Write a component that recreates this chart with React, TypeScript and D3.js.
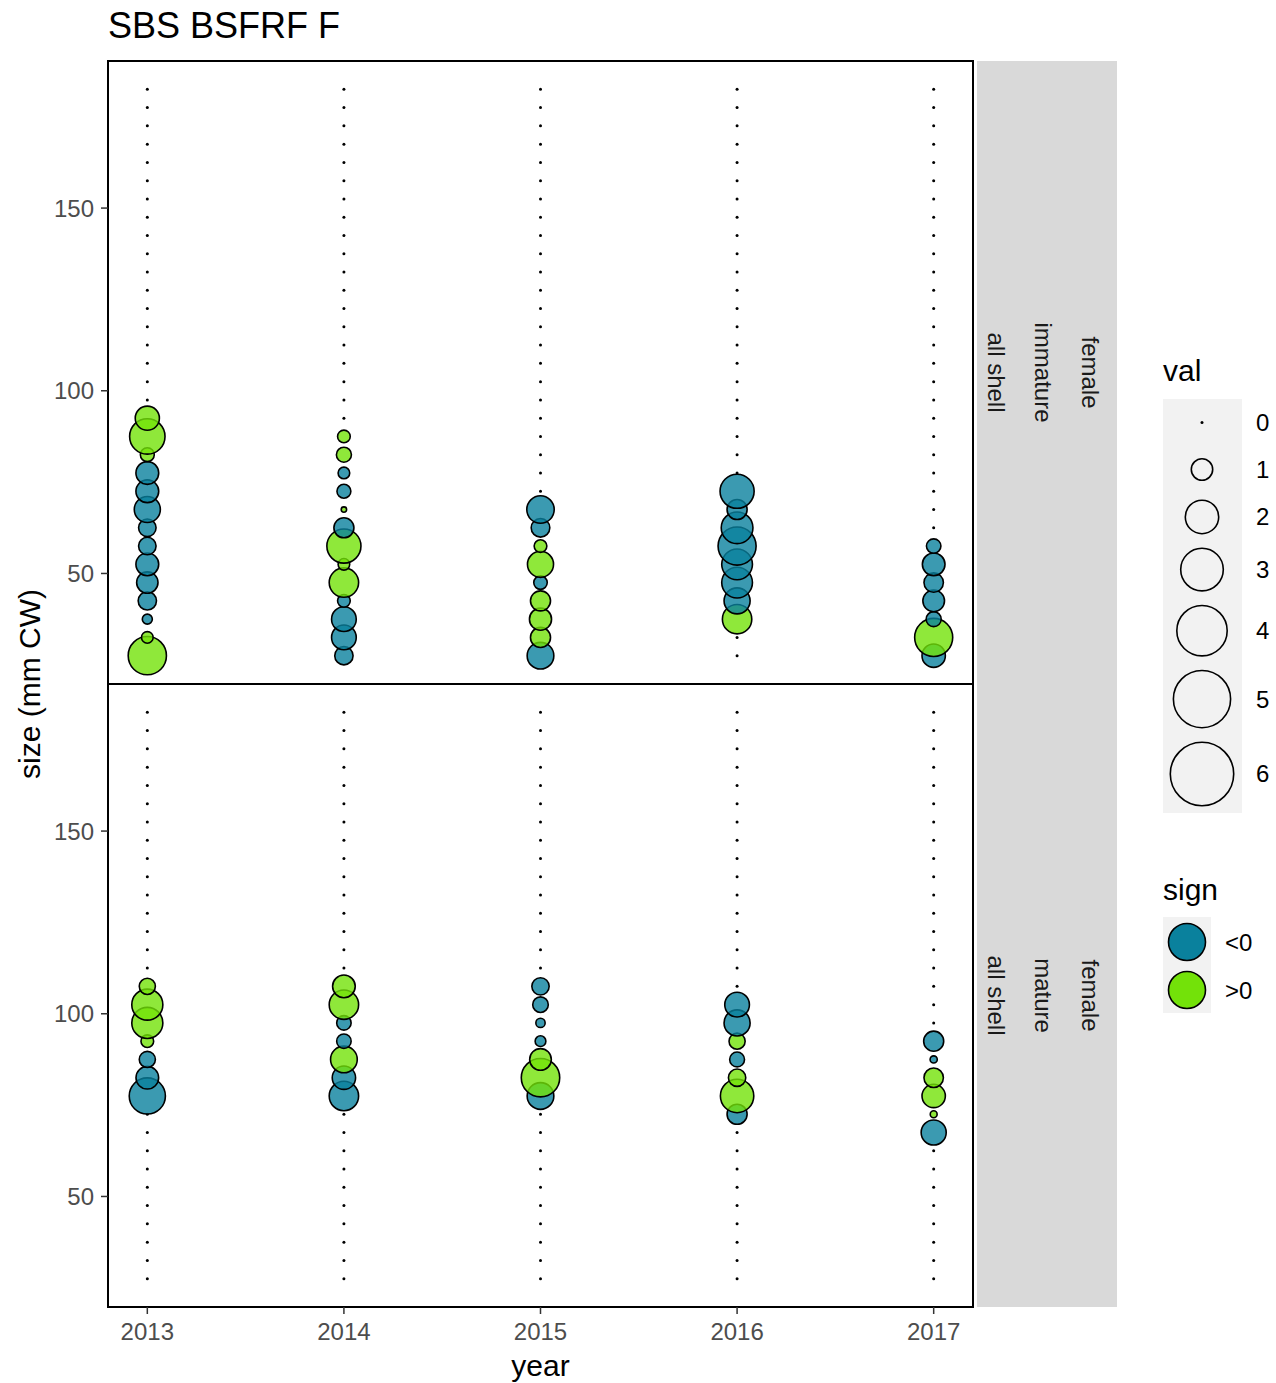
import React from "react";
import * as d3 from "d3";

// ---------- data ----------
const years = [2013, 2014, 2015, 2016, 2017];
const sizeBins = [
  27.5, 32.5, 37.5, 42.5, 47.5, 52.5, 57.5, 62.5, 67.5, 72.5, 77.5, 82.5, 87.5, 92.5, 97.5, 102.5,
  107.5, 112.5, 117.5, 122.5, 127.5, 132.5, 137.5, 142.5, 147.5, 152.5, 157.5, 162.5, 167.5, 172.5,
  177.5, 182.5,
];
const yTicks = [50, 100, 150];
const valBreaks = [0, 1, 2, 3, 4, 5, 6];
const signLabels = ["<0", ">0"];
const panelLabels = [
  ["female", "immature", "all shell"],
  ["female", "mature", "all shell"],
];

// non-zero values per year: [size bin, value]; every other bin is 0
const immature2013: [number, number][] = [[92.5, 1.2], [87.5, 2.2], [82.5, 0.55], [77.5, -1.1], [72.5, -1.1], [67.5, -1.35], [62.5, -0.75], [57.5, -0.75], [52.5, -1.1], [47.5, -1.0], [42.5, -0.8], [37.5, -0.37], [32.5, 0.44], [27.5, 2.5]];
const immature2014: [number, number][] = [[87.5, 0.49], [82.5, 0.61], [77.5, -0.44], [72.5, -0.55], [67.5, 0.2], [62.5, -0.91], [57.5, 2.07], [52.5, 0.44], [47.5, 1.63], [42.5, -0.49], [37.5, -1.24], [32.5, -1.24], [27.5, -0.8]];
const immature2015: [number, number][] = [[67.5, -1.46], [62.5, -0.82], [57.5, 0.49], [52.5, 1.35], [47.5, -0.53], [42.5, 0.91], [37.5, 1.05], [32.5, 0.91], [27.5, -1.4]];
const immature2016: [number, number][] = [[72.5, -2.07], [67.5, -0.91], [62.5, -1.84], [57.5, -2.48], [52.5, -1.75], [47.5, -1.75], [42.5, -1.35], [37.5, 1.63]];
const immature2017: [number, number][] = [[57.5, -0.58], [52.5, -1.09], [47.5, -0.87], [42.5, -1.02], [37.5, -0.61], [32.5, 2.48], [27.5, -1.14]];

const mature2013: [number, number][] = [[107.5, 0.67], [102.5, 1.78], [97.5, 1.78], [92.5, 0.49], [87.5, -0.67], [82.5, -1.09], [77.5, -2.28]];
const mature2014: [number, number][] = [[107.5, 1.09], [102.5, 1.63], [97.5, -0.58], [92.5, -0.58], [87.5, 1.4], [82.5, -1.14], [77.5, -1.63]];
const mature2015: [number, number][] = [[107.5, -0.74], [102.5, -0.64], [97.5, -0.34], [92.5, -0.4], [87.5, 1.02], [82.5, 2.52], [77.5, -1.4]];
const mature2016: [number, number][] = [[102.5, -1.24], [97.5, -1.35], [92.5, 0.67], [87.5, -0.6], [82.5, 0.74], [77.5, 2.0], [72.5, -0.91]];
const mature2017: [number, number][] = [[92.5, -0.91], [87.5, -0.26], [82.5, 0.87], [77.5, 1.14], [72.5, 0.25], [67.5, -1.27]];

const panelData = [
  [immature2013, immature2014, immature2015, immature2016, immature2017],
  [mature2013, mature2014, mature2015, mature2016, mature2017],
];

// ---------- styles ----------
const FONT = "'Liberation Sans', Arial, Helvetica, sans-serif";
const NEG = "#0A819D";
const POS = "#73E209";
const FILL_ALPHA = 0.8;
const STROKE_W = 1.6;

// ---------- layout ----------
const W = 1276;
const H = 1383;
const PL = 108;
const PR = 973;
const panelTops = [61, 684];
const PH = 623;
const STRIP_X = 977;
const STRIP_W = 140 / 3;

const x = d3.scaleLinear().domain([2012.8, 2017.2]).range([PL, PR]);
const sqrtLin = d3.scaleLinear().domain([0, Math.sqrt(6)]).range([-6, 65]);
const diam = (v: number) => Math.max(3, sqrtLin(Math.sqrt(Math.abs(v))));

function Panel({ idx }: { idx: number }) {
  const top = panelTops[idx];
  const y = d3.scaleLinear().domain([19.75, 190.25]).range([top + PH, top]);
  const cols = panelData[idx];
  const pts: { yr: number; bin: number; v: number }[] = [];
  years.forEach((yr, i) => {
    const m = new Map(cols[i]);
    sizeBins.forEach((b) => pts.push({ yr, bin: b, v: m.get(b) ?? 0 }));
  });
  return (
    <g>
      <rect x={PL} y={top} width={PR - PL} height={PH} fill="white" />
      {pts.map((p, i) => {
        const cx = x(p.yr);
        const cy = y(p.bin);
        if (p.v === 0) return <circle key={i} cx={cx} cy={cy} r={1.5} fill="black" />;
        const r = (diam(p.v) - STROKE_W) / 2;
        return (
          <circle
            key={i}
            cx={cx}
            cy={cy}
            r={r}
            fill={p.v < 0 ? NEG : POS}
            fillOpacity={FILL_ALPHA}
            stroke="black"
            strokeWidth={STROKE_W}
          />
        );
      })}
      <rect x={PL} y={top} width={PR - PL} height={PH} fill="none" stroke="black" strokeWidth={2} />
      {yTicks.map((t) => (
        <g key={t}>
          <line x1={PL - 7} x2={PL} y1={y(t)} y2={y(t)} stroke="#333" strokeWidth={1.5} />
          <text x={PL - 14} y={y(t)} textAnchor="end" dominantBaseline="central" fontSize={24} fill="#4d4d4d">
            {t}
          </text>
        </g>
      ))}
      {/* strips */}
      <rect x={STRIP_X} y={top} width={STRIP_W * 3} height={PH} fill="#d9d9d9" />
      {panelLabels[idx].map((lab, j) => {
        const cx = STRIP_X + STRIP_W * (2 - j) + STRIP_W / 2 - 3.5;
        const cy = top + PH / 2;
        return (
          <text
            key={j}
            transform={`translate(${cx},${cy}) rotate(90)`}
            textAnchor="middle"
            dominantBaseline="central"
            fontSize={24}
            fill="#1a1a1a"
          >
            {lab}
          </text>
        );
      })}
    </g>
  );
}

function ValLegend() {
  const keyH = valBreaks.map((v) => Math.max(47, diam(v) + 13));
  const top = 399;
  let acc = top;
  const centers = keyH.map((h) => {
    const c = acc + h / 2;
    acc += h;
    return c;
  });
  const kx = 1202;
  return (
    <g>
      <text x={1163} y={381} fontSize={30} fill="black">val</text>
      <rect x={1163} y={top} width={79} height={acc - top} fill="#f2f2f2" />
      {valBreaks.map((v, i) => (
        <g key={v}>
          {v === 0 ? (
            <circle cx={kx} cy={centers[i]} r={1.5} fill="black" />
          ) : (
            <circle cx={kx} cy={centers[i]} r={(diam(v) - STROKE_W) / 2} fill="none" stroke="black" strokeWidth={STROKE_W} />
          )}
          <text x={1256} y={centers[i]} dominantBaseline="central" fontSize={24} fill="black">{v}</text>
        </g>
      ))}
    </g>
  );
}

function SignLegend() {
  const top = 917;
  const kh = 48;
  return (
    <g>
      <text x={1163} y={900} fontSize={30} fill="black">sign</text>
      <rect x={1163} y={top} width={48} height={kh * 2} fill="#f2f2f2" />
      {signLabels.map((lab, i) => (
        <g key={lab}>
          <circle cx={1187} cy={top + kh * i + kh / 2 + 1} r={18.5} fill={i === 0 ? NEG : POS} stroke="black" strokeWidth={STROKE_W} />
          <text x={1225} y={top + kh * i + kh / 2 + 1} dominantBaseline="central" fontSize={24} fill="black">{lab}</text>
        </g>
      ))}
    </g>
  );
}

export default function App() {
  const bottom = panelTops[1] + PH;
  return (
    <svg
      width={W}
      height={H}
      style={{ position: "absolute", left: 0, top: 0, background: "white" }}
      fontFamily={FONT}
    >
      <rect width={W} height={H} fill="white" />
      <text x={PL} y={38} fontSize={36} fill="black">SBS BSFRF F</text>
      <Panel idx={0} />
      <Panel idx={1} />
      {years.map((yr) => (
        <g key={yr}>
          <line x1={x(yr)} x2={x(yr)} y1={bottom} y2={bottom + 7} stroke="#333" strokeWidth={1.5} />
          <text x={x(yr)} y={1331} textAnchor="middle" dominantBaseline="central" fontSize={24} fill="#4d4d4d">
            {yr}
          </text>
        </g>
      ))}
      <text x={(PL + PR) / 2} y={1365} textAnchor="middle" dominantBaseline="central" fontSize={30} fill="black">year</text>
      <text
        transform={`translate(29,${(panelTops[0] + bottom) / 2}) rotate(-90)`}
        textAnchor="middle"
        dominantBaseline="central"
        fontSize={30}
        fill="black"
      >
        size (mm CW)
      </text>
      <ValLegend />
      <SignLegend />
    </svg>
  );
}
